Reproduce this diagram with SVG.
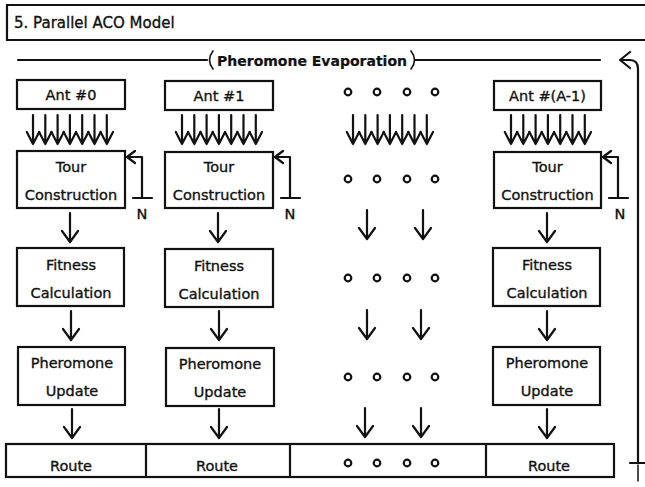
<svg xmlns="http://www.w3.org/2000/svg" width="645" height="487" viewBox="0 0 645 487">
<defs>
<style>
.box{fill:#fff;stroke:#111;stroke-width:2.2}
.ln{fill:none;stroke:#111;stroke-width:2.2;stroke-linecap:round;stroke-linejoin:round}
.t{font-family:"DejaVu Sans","Liberation Sans",sans-serif;font-size:14.5px;fill:#111;stroke:#111;stroke-width:0.35;text-anchor:middle}
.dot{fill:#fff;stroke:#111;stroke-width:2.2}
</style>
<g id="ma">
<path class="ln" d="M0 115V144M-6.2 132L0 144L6.2 132"/>
</g>
<g id="multi">
<use href="#ma" x="0"/><use href="#ma" x="12.3"/><use href="#ma" x="24.6"/><use href="#ma" x="36.9"/><use href="#ma" x="49.2"/><use href="#ma" x="61.5"/><use href="#ma" x="73.8"/>
</g>
<g id="sa">
<path class="ln" d="M0 0V29M-8 18L0 29L8 18"/>
</g>
<g id="dots">
<circle class="dot" cx="348" cy="0" r="3.3"/><circle class="dot" cx="377" cy="0" r="3.3"/><circle class="dot" cx="407" cy="0" r="3.3"/><circle class="dot" cx="435" cy="0" r="3.3"/>
</g>
<g id="fb">
<path class="ln" d="M0 157H15V198M6 198H25M8 151L0 157L8 163"/>
</g>
</defs>
<rect width="645" height="487" fill="#fff"/>

<g id="title">
<path class="box" d="M648 5H7V40H648"/>
<text class="t" x="14" y="28" style="text-anchor:start;font-size:15px">5. Parallel ACO Model</text>
</g>

<g id="evaporation">
<text class="t" x="312" y="66" style="font-weight:bold;font-size:14px;stroke-width:0.2">Pheromone Evaporation</text>
<path class="ln" d="M213 51Q206 60 213 69M411 51Q418 60 411 69" style="stroke-width:1.6"/>
</g>

<g id="ant0"><rect class="box" x="17" y="80" width="108" height="29"/><text class="t" x="71" y="100">Ant #0</text></g>
<g id="ant1"><rect class="box" x="165" y="81" width="108" height="29"/><text class="t" x="219" y="101">Ant #1</text></g>
<g id="antA"><rect class="box" x="494" y="81" width="107" height="29"/><text class="t" x="547.5" y="101">Ant #(A-1)</text></g>

<g id="tour0"><rect class="box" x="17" y="151" width="108" height="57"/><text class="t" x="71" y="172">Tour</text><text class="t" x="71" y="200">Construction</text></g>
<g id="tour1"><rect class="box" x="165" y="152" width="108" height="56"/><text class="t" x="219" y="172">Tour</text><text class="t" x="219" y="200">Construction</text></g>
<g id="tourA"><rect class="box" x="494" y="152" width="107" height="56"/><text class="t" x="547.5" y="172">Tour</text><text class="t" x="547.5" y="200">Construction</text></g>

<g id="fit0"><rect class="box" x="17" y="248" width="107" height="58"/><text class="t" x="71" y="270">Fitness</text><text class="t" x="71" y="298">Calculation</text></g>
<g id="fit1"><rect class="box" x="165" y="249" width="108" height="58"/><text class="t" x="219" y="271">Fitness</text><text class="t" x="219" y="299">Calculation</text></g>
<g id="fitA"><rect class="box" x="493" y="248" width="107" height="58"/><text class="t" x="547" y="270">Fitness</text><text class="t" x="547" y="298">Calculation</text></g>

<g id="upd0"><rect class="box" x="18" y="347" width="107" height="58"/><text class="t" x="72" y="368">Pheromone</text><text class="t" x="72" y="396">Update</text></g>
<g id="upd1"><rect class="box" x="166" y="348" width="108" height="58"/><text class="t" x="220" y="369">Pheromone</text><text class="t" x="220" y="397">Update</text></g>
<g id="updA"><rect class="box" x="493" y="347" width="107" height="58"/><text class="t" x="547" y="368">Pheromone</text><text class="t" x="547" y="396">Update</text></g>

<g id="route">
<rect class="box" x="6" y="444" width="608" height="33"/>
<path class="ln" d="M146 444V477M290 444V477M486 444V477"/>
<text class="t" x="71" y="471">Route</text>
<text class="t" x="217" y="471">Route</text>
<text class="t" x="549" y="471">Route</text>
</g>

<g id="ellipsis">
<use href="#dots" y="92"/>
<use href="#dots" y="179"/>
<use href="#dots" y="278"/>
<use href="#dots" y="377"/>
<use href="#dots" y="463"/>
</g>

<g id="labels">
<text class="t" x="142" y="219">N</text>
<text class="t" x="290" y="219">N</text>
<text class="t" x="620" y="219">N</text>
</g>

<g id="connectors">
<path class="ln" d="M18 60H207M415 60H600"/>
<path class="ln" d="M638 463V69Q638 60 630 60H621M630 52L620 60L630 68"/>
<path class="ln" d="M630 463H645"/>
<path class="ln" d="M638 465V481" style="stroke-width:1.5"/>
<use href="#multi" x="33"/>
<use href="#multi" x="182"/>
<use href="#multi" x="353"/>
<use href="#multi" x="511"/>
<use href="#fb" x="127"/>
<use href="#fb" x="275"/>
<use href="#fb" x="603"/>
<use href="#sa" x="70" y="213"/>
<use href="#sa" x="218" y="213"/>
<use href="#sa" x="547" y="213"/>
<use href="#sa" x="367" y="210"/>
<use href="#sa" x="423" y="210"/>
<use href="#sa" x="71" y="311"/>
<use href="#sa" x="219" y="311"/>
<use href="#sa" x="547" y="311"/>
<use href="#sa" x="367" y="310"/>
<use href="#sa" x="421" y="310"/>
<use href="#sa" x="72" y="409"/>
<use href="#sa" x="219" y="409"/>
<use href="#sa" x="547" y="409"/>
<use href="#sa" x="365" y="408"/>
<use href="#sa" x="421" y="408"/>
</g>
</svg>
